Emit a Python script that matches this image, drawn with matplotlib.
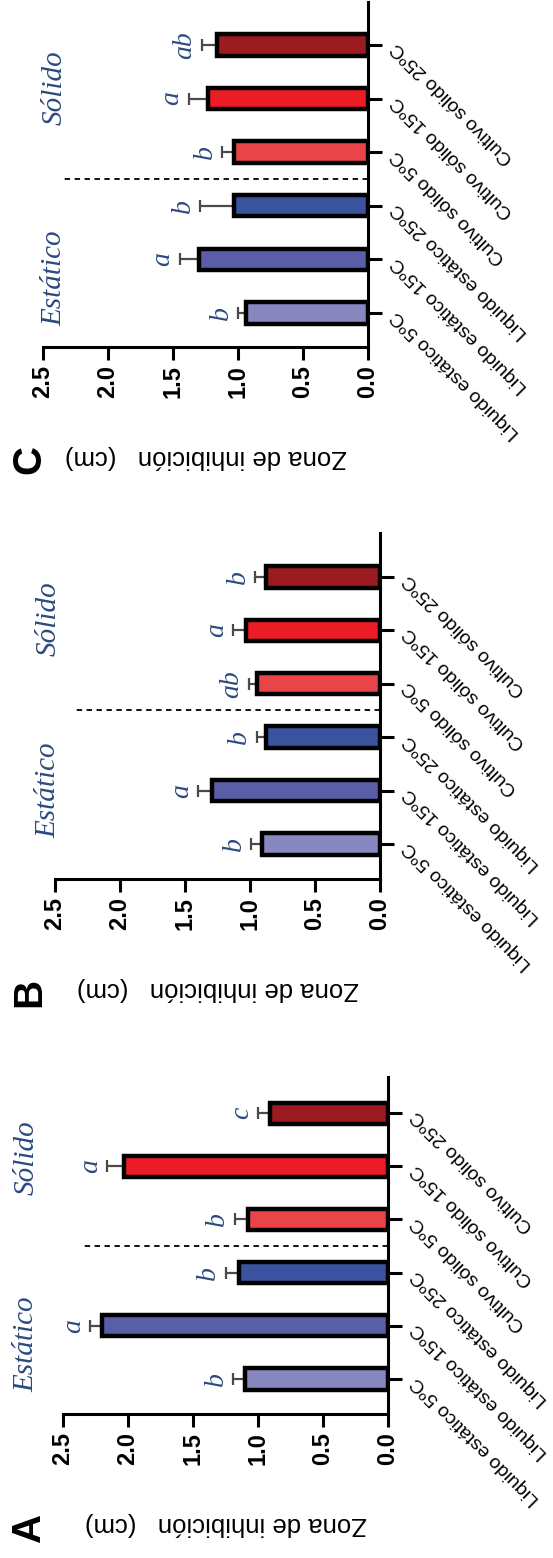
import matplotlib.pyplot as plt

# Categories, bottom to top along the category axis
categories = ["Liquido estático 5ºC", "Liquido estático 15ºC", "Liquido estático 25ºC",
              "Cultivo sólido 5ºC", "Cultivo sólido 15ºC", "Cultivo sólido 25ºC"]
bar_colors = ["#8888C0", "#5A5EA8", "#3A53A0", "#E94448", "#EC1C24", "#9B1B20"]

# Panel A
vals_a = [1.10, 2.20, 1.15, 1.08, 2.03, 0.91]
err_a = [0.09, 0.09, 0.10, 0.10, 0.13, 0.09]
letters_a = ["b", "a", "b", "b", "a", "c"]

# Panel B
vals_b = [0.91, 1.29, 0.88, 0.95, 1.03, 0.88]
err_b = [0.08, 0.11, 0.07, 0.06, 0.10, 0.08]
letters_b = ["b", "a", "b", "ab", "a", "b"]

# Panel C
vals_c = [0.94, 1.30, 1.03, 1.03, 1.23, 1.16]
err_c = [0.06, 0.15, 0.26, 0.09, 0.15, 0.12]
letters_c = ["b", "a", "b", "b", "a", "ab"]

value_ticks = [0.0, 0.5, 1.0, 1.5, 2.0, 2.5]
value_ticklabels = ["0.0", "0.5", "1.0", "1.5", "2.0", "2.5"]

W, H = 553, 1558
fig = plt.figure(figsize=(W / 100, H / 100), dpi=100)
plt.rcParams["font.family"] = ["Liberation Sans", "DejaVu Sans"]

text_blue = "#2B4A7E"
serif = ["Liberation Serif", "DejaVu Serif"]


def px_axes(left, right, top, bottom):
    return [left / W, 1 - bottom / H, (right - left) / W, (bottom - top) / H]


def draw_panel(rect, vals, errs, letters, ylim, letter, est_pos, sol_pos):
    ax = fig.add_axes(rect)
    pos = list(range(len(categories)))
    ax.errorbar(vals, pos, xerr=[[0] * len(errs), errs], fmt="none",
                ecolor="#4a4a4a", elinewidth=1.6, capsize=4.5, capthick=1.6, zorder=2)
    ax.barh(pos, vals, height=0.40, color=bar_colors, edgecolor="black",
            linewidth=3.2, zorder=3)

    for p, v, e, t in zip(pos, vals, errs, letters):
        ax.annotate(t, xy=(v + e, p), xytext=(-3, 0), textcoords="offset points",
                    rotation=90, ha="right", va="center", fontsize=20,
                    family=serif, style="italic", color=text_blue,
                    annotation_clip=False)

    # dashed separator between the two groups
    ax.plot([0, 2.36], [2.5, 2.5], color="black", lw=1.3, ls=(0, (3, 2.5)), zorder=2)

    ax.text(est_pos[0], est_pos[1], "Estático", rotation=90, ha="center", va="center",
            fontsize=21, family=serif, style="italic", color=text_blue, clip_on=False)
    ax.text(sol_pos[0], sol_pos[1], "Sólido", rotation=90, ha="center", va="center",
            fontsize=21, family=serif, style="italic", color=text_blue, clip_on=False)

    ax.set_xlim(2.5, 0)
    ax.set_ylim(*ylim)
    ax.spines["left"].set_visible(False)
    ax.spines["top"].set_visible(False)
    ax.spines["bottom"].set_linewidth(2.2)
    ax.spines["right"].set_linewidth(2.2)

    ax.set_xticks(value_ticks)
    ax.set_xticklabels(value_ticklabels, rotation=90, fontsize=17, fontweight="bold")
    ax.tick_params(axis="x", direction="out", length=9, width=2.2, pad=4)

    ax.yaxis.tick_right()
    ax.set_yticks(pos)
    ax.set_yticklabels(categories, rotation=135, rotation_mode="anchor",
                       ha="right", va="center", fontsize=14)
    ax.tick_params(axis="y", direction="out", length=10, width=2.2, pad=9)

    # axis title and panel letter below the value axis
    x0 = rect[0] + rect[2] / 2
    y_axis = rect[1]
    fig.text(x0, y_axis - 110 / H, "Zona de inhibición   (cm)", rotation=180,
             ha="center", va="center", fontsize=18.5)
    fig.text(29 / W, y_axis - 113 / H, letter, rotation=90, ha="center", va="center",
             fontsize=29, fontweight="bold")
    return ax


draw_panel(px_axes(43, 368, 2, 347), vals_c, err_c, letters_c, (-0.635, 5.8), "C",
           (2.41, 0.65), (2.41, 4.2))
draw_panel(px_axes(55, 380, 533, 879), vals_b, err_b, letters_b, (-0.655, 5.82), "B",
           (2.55, 1.01), (2.55, 4.21))
draw_panel(px_axes(63, 388, 1077, 1414), vals_a, err_a, letters_a, (-0.66, 5.68), "A",
           (2.78, 0.66), (2.78, 4.17))

fig.savefig("out.png", dpi=100)
